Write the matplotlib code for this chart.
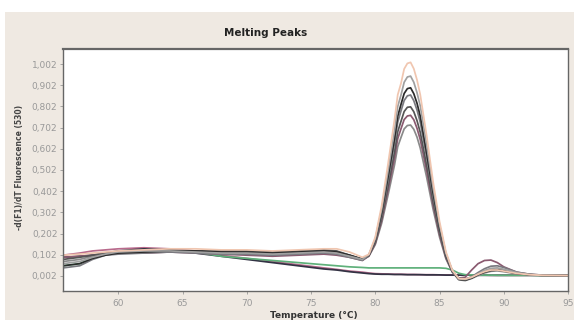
import numpy as np
import matplotlib
matplotlib.use("Agg")
import matplotlib.pyplot as plt
from matplotlib.patches import Rectangle

# temperature grid (deg C), denser around the melting peak
temp = [55.7, 57, 58, 59, 60, 62, 64, 66, 68, 70, 72, 74, 76, 77, 78, 79,
        79.5, 80, 80.5, 81, 81.5, 81.75, 82, 82.25, 82.5, 82.75, 83, 83.25, 83.5, 84, 84.5, 85, 85.5, 86,
        86.5, 87, 87.5, 88, 88.5, 89, 89.5, 90, 91, 92, 93, 95]

# samples with a melting peak
peak_a = [0.10, 0.105, 0.11, 0.115, 0.12, 0.125, 0.13, 0.13, 0.125, 0.125, 0.12, 0.125, 0.13, 0.13, 0.115, 0.09,
          0.104, 0.185, 0.334, 0.533, 0.740, 0.857, 0.910, 0.979, 1.005, 1.010, 0.980, 0.927, 0.858, 0.664, 0.447, 0.260, 0.116, 0.029,
          -0.010, -0.012, -0.004, 0.010, 0.022, 0.030, 0.030, 0.025, 0.014, 0.008, 0.005, 0.004]
peak_b = [0.06, 0.07, 0.09, 0.105, 0.115, 0.12, 0.12, 0.115, 0.11, 0.11, 0.105, 0.11, 0.115, 0.11, 0.095, 0.08,
          0.102, 0.177, 0.316, 0.499, 0.690, 0.802, 0.855, 0.916, 0.941, 0.945, 0.916, 0.867, 0.805, 0.621, 0.419, 0.244, 0.108, 0.027,
          -0.012, -0.015, -0.005, 0.012, 0.028, 0.038, 0.040, 0.034, 0.018, 0.009, 0.005, 0.004]
peak_c = [0.05, 0.06, 0.085, 0.10, 0.11, 0.115, 0.12, 0.12, 0.115, 0.115, 0.11, 0.115, 0.12, 0.115, 0.10, 0.082,
          0.100, 0.171, 0.300, 0.472, 0.651, 0.756, 0.811, 0.863, 0.886, 0.890, 0.862, 0.817, 0.757, 0.584, 0.395, 0.230, 0.102, 0.025,
          -0.014, -0.018, -0.008, 0.008, 0.020, 0.028, 0.030, 0.026, 0.014, 0.008, 0.005, 0.004]
peak_d = [0.04, 0.05, 0.08, 0.10, 0.105, 0.11, 0.115, 0.11, 0.105, 0.105, 0.10, 0.105, 0.11, 0.105, 0.09, 0.076,
          0.099, 0.167, 0.291, 0.455, 0.627, 0.728, 0.780, 0.830, 0.852, 0.856, 0.829, 0.785, 0.728, 0.562, 0.380, 0.222, 0.099, 0.024,
          -0.012, -0.014, -0.002, 0.018, 0.036, 0.048, 0.050, 0.042, 0.020, 0.010, 0.006, 0.004]
peak_e = [0.08, 0.09, 0.10, 0.11, 0.115, 0.12, 0.125, 0.12, 0.12, 0.12, 0.115, 0.12, 0.125, 0.12, 0.10, 0.08,
          0.098, 0.160, 0.275, 0.428, 0.588, 0.683, 0.731, 0.778, 0.798, 0.800, 0.777, 0.735, 0.680, 0.525, 0.355, 0.208, 0.093, 0.023,
          -0.010, -0.012, -0.004, 0.010, 0.022, 0.030, 0.032, 0.028, 0.015, 0.008, 0.005, 0.004]
peak_f = [0.09, 0.095, 0.10, 0.105, 0.11, 0.11, 0.115, 0.11, 0.105, 0.10, 0.095, 0.10, 0.105, 0.10, 0.09, 0.075,
          0.096, 0.155, 0.264, 0.408, 0.559, 0.650, 0.696, 0.740, 0.757, 0.760, 0.739, 0.699, 0.646, 0.499, 0.337, 0.198, 0.088, 0.021,
          -0.008, -0.004, 0.030, 0.060, 0.075, 0.077, 0.065, 0.045, 0.020, 0.010, 0.006, 0.004]
peak_g = [0.07, 0.08, 0.095, 0.105, 0.11, 0.115, 0.12, 0.12, 0.115, 0.11, 0.105, 0.11, 0.12, 0.115, 0.10, 0.08,
          0.095, 0.150, 0.251, 0.385, 0.526, 0.612, 0.655, 0.696, 0.712, 0.714, 0.694, 0.657, 0.606, 0.468, 0.317, 0.186, 0.083, 0.020,
          -0.016, -0.020, -0.010, 0.004, 0.016, 0.024, 0.026, 0.022, 0.012, 0.007, 0.005, 0.004]

# samples without a peak
flat_green = [0.05, 0.06, 0.09, 0.105, 0.11, 0.115, 0.12, 0.115, 0.095, 0.085, 0.075, 0.065, 0.055, 0.05, 0.045, 0.042,
              0.04, 0.04, 0.04, 0.04, 0.04, 0.04, 0.04, 0.04, 0.04, 0.04, 0.04, 0.04, 0.04, 0.04, 0.04, 0.04, 0.038, 0.03,
              0.015, 0.008, 0.007, 0.006, 0.006, 0.006, 0.005, 0.005, 0.005, 0.005, 0.004, 0.004]
flat_black = [0.09, 0.095, 0.10, 0.11, 0.12, 0.13, 0.125, 0.11, 0.095, 0.08, 0.065, 0.05, 0.035, 0.03, 0.022, 0.016,
              0.013, 0.011, 0.010, 0.010, 0.009, 0.009, 0.009, 0.0085, 0.008, 0.008, 0.008, 0.008, 0.008, 0.007, 0.007, 0.007, 0.006, 0.006,
              0.006, 0.006, 0.006, 0.005, 0.005, 0.005, 0.005, 0.005, 0.005, 0.005, 0.004, 0.004]
flat_pink = [0.10, 0.11, 0.12, 0.125, 0.13, 0.135, 0.13, 0.12, 0.10, 0.085, 0.07, 0.055, 0.04, 0.033, 0.025, 0.02,
             0.016, 0.013, 0.012, 0.011, 0.010, 0.010, 0.010, 0.0095, 0.009, 0.009, 0.009, 0.0085, 0.008, 0.008, 0.008, 0.007, 0.007, 0.007,
             0.006, 0.006, 0.006, 0.006, 0.006, 0.005, 0.005, 0.005, 0.005, 0.005, 0.005, 0.005]

curves = [
    (flat_pink, '#b86a8c'),
    (flat_black, '#333344'),
    (flat_green, '#5fb07a'),
    (peak_g, '#8a8a8a'),
    (peak_f, '#8a5a70'),
    (peak_e, '#555555'),
    (peak_d, '#7a7a80'),
    (peak_c, '#2a2a2a'),
    (peak_b, '#a0a0a0'),
    (peak_a, '#f0c6b0'),
]

yticks = [0.002, 0.102, 0.202, 0.302, 0.402, 0.502, 0.602, 0.702, 0.802, 0.902, 1.002]
ytick_labels = ['0,002', '0,102', '0,202', '0,302', '0,402', '0,502',
                '0,602', '0,702', '0,802', '0,902', '1,002']
xticks = [60, 65, 70, 75, 80, 85, 90, 95]

fig = plt.figure(figsize=(5.74, 3.2), dpi=100)
fig.patch.set_facecolor('white')
fig.patches.append(Rectangle((5 / 574, 0), 1, 308 / 320, transform=fig.transFigure,
                             facecolor='#efe9e2', edgecolor='none', zorder=-10))

ax = fig.add_axes([63 / 574, 29 / 320, 505 / 574, 242 / 320])
ax.set_facecolor('white')
for vals, col in curves:
    ax.plot(temp, vals, color=col, lw=1.25, solid_joinstyle='round')

ax.set_xlim(55.7, 95)
ax.set_ylim(-0.069, 1.073)
ax.set_xticks(xticks)
ax.set_xticklabels([str(t) for t in xticks])
ax.set_yticks(yticks)
ax.set_yticklabels(ytick_labels)
ax.tick_params(axis='both', labelsize=6.5, colors='#999999', length=2, width=0.6, pad=2)
ax.tick_params(axis='x', pad=4)
for s in ax.spines.values():
    s.set_color('#666666')
    s.set_linewidth(1.0)
ax.spines['top'].set_linewidth(1.6)

fig.text(266 / 574, 1 - 33 / 320, 'Melting Peaks', ha='center', va='center',
         fontsize=7.5, fontweight='bold', color='#222222')
fig.text(314 / 574, 1 - 316 / 320, 'Temperature (°C)', ha='center', va='center',
         fontsize=6.5, fontweight='bold', color='#333333')
fig.text(20 / 574, 1 - 167 / 320, '-d(F1)/dT Fluorescence (530)', ha='center', va='center',
         rotation=90, fontsize=5.5, fontweight='bold', color='#444444')

fig.savefig('out.png', dpi=100)
